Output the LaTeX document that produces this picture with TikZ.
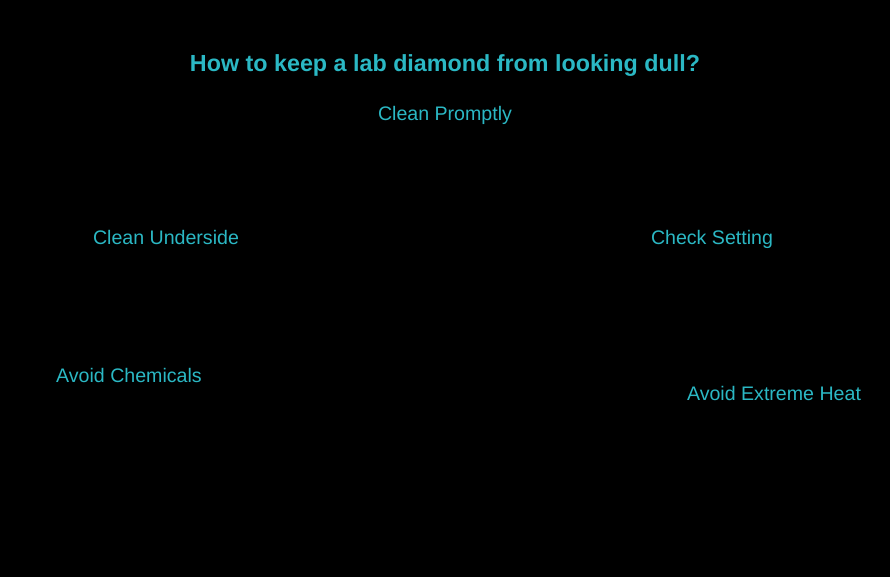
\documentclass[tikz,border=0pt]{standalone}
\usepackage{fontspec}
\setmainfont{Liberation Sans}
\definecolor{tealtxt}{HTML}{2BB8C4}
\tikzset{
  lbl/.style={text=tealtxt, inner sep=0pt, anchor=base, font=\fontsize{19.6}{22}\selectfont},
  ttl/.style={text=tealtxt, inner sep=0pt, anchor=base, font=\fontsize{23.3}{28}\selectfont\bfseries}
}
\begin{document}
\begin{tikzpicture}[x=1pt,y=-1pt]
\fill[black] (0,0) rectangle (890,577);
\useasboundingbox (0,0) rectangle (890,577);
\node[ttl] (title) at (445,72) {How to keep a lab diamond from looking dull?};
\node[lbl] (prompt) at (445,121) {Clean Promptly};
\node[lbl] (under) at (166,244) {Clean Underside};
\node[lbl] (setting) at (712,244) {Check Setting};
\node[lbl] (chem) at (129,382) {Avoid Chemicals};
\node[lbl] (heat) at (774,400) {Avoid Extreme Heat};
\end{tikzpicture}
\end{document}
